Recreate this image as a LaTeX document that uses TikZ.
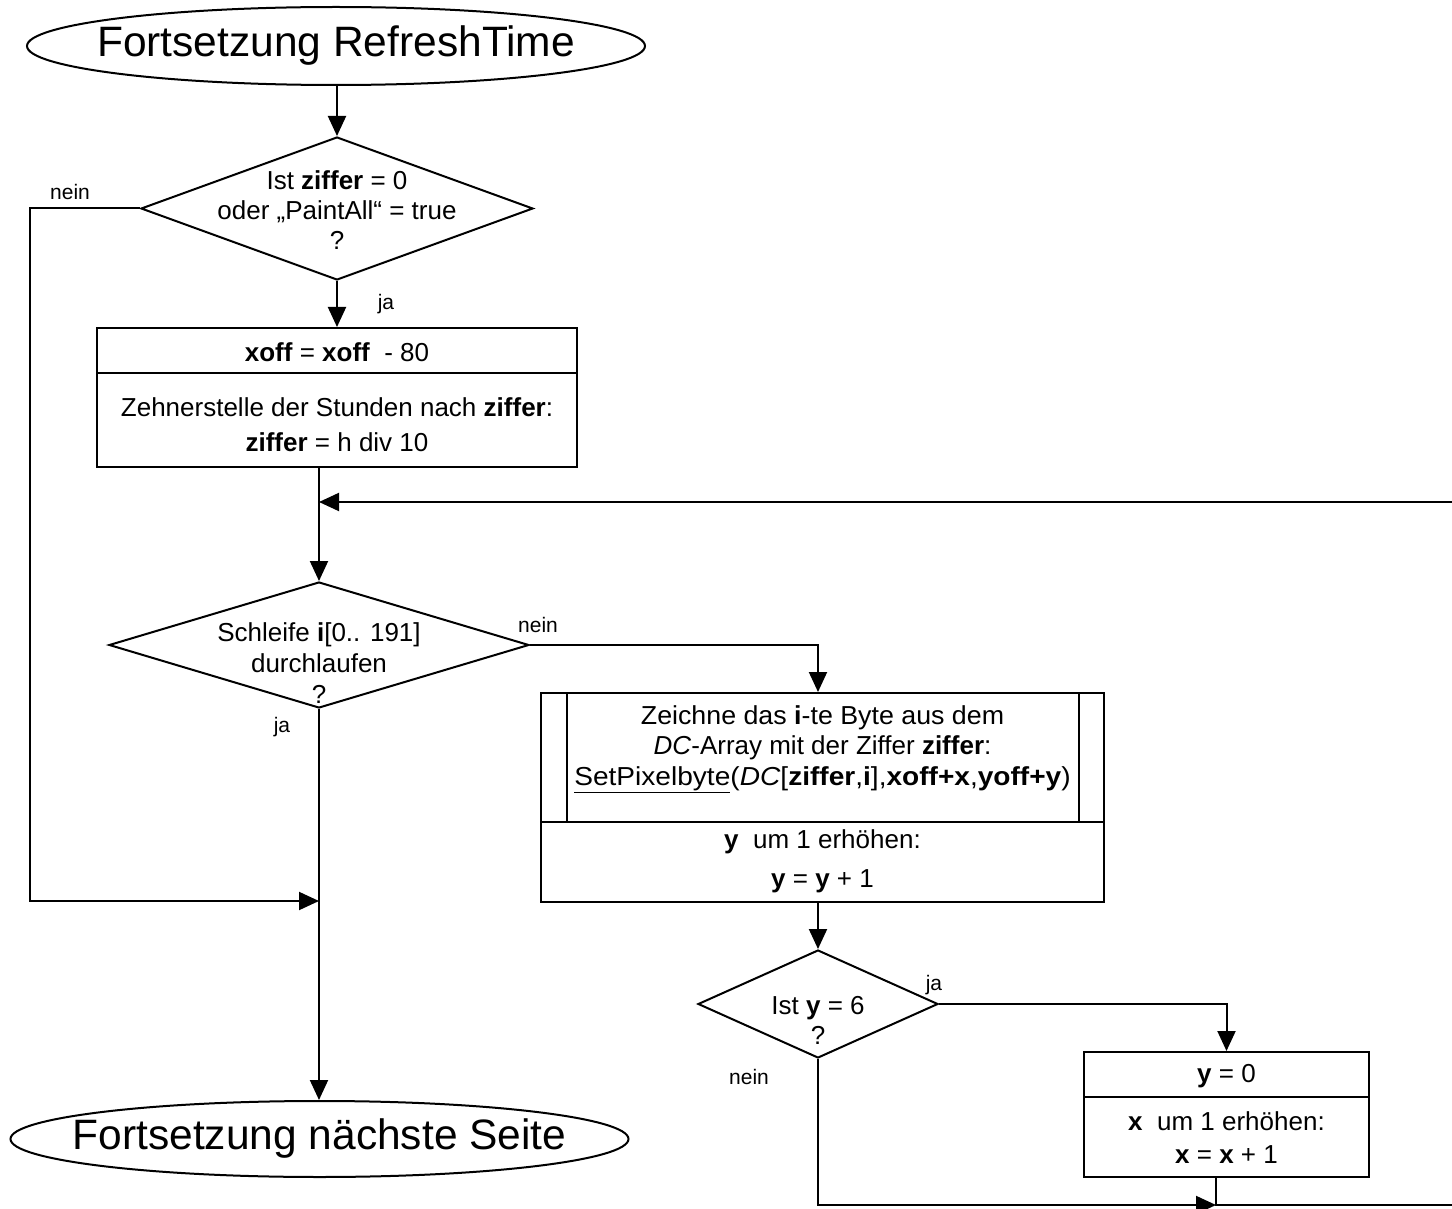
\documentclass[tikz,border=0pt]{standalone}
\usepackage{fontspec}
\setmainfont{Liberation Sans}
\usetikzlibrary{arrows.meta,shapes.geometric}
\begin{document}
\begin{tikzpicture}[x=1pt,y=-1pt,
  conn/.style={line width=2pt},
  arr/.style={conn,-{Triangle[length=20pt,width=18pt]}},
  shp/.style={draw,line width=2pt,inner sep=0pt},
  txt/.style={align=center,inner sep=0pt,font=\fontsize{26}{30}\selectfont},
  lbl/.style={inner sep=0pt,font=\fontsize{21}{25}\selectfont},
  term/.style={shp,ellipse,minimum width=618pt,minimum height=78pt},
  termtxt/.style={inner sep=0pt,font=\fontsize{42.5}{50}\selectfont},
  dia/.style={shp,diamond},
  box/.style={shp,rectangle},
]
\useasboundingbox (0,0) rectangle (1452,1209);
\clip (0,0) rectangle (1452,1209);

% terminals
\node[term] (start) at (336,46) {};
\node[termtxt] (startt) at (336,46) {Fortsetzung RefreshTime};
\node[term,minimum height=76pt] (end) at (319.5,1139) {};
\node[termtxt] (endt) at (319.5,1139) {Fortsetzung nächste Seite};

% decision 1
\node[dia,minimum width=392pt,minimum height=143pt] (d1) at (337,208.5) {};
\node[txt] (d1t) at (337,210) {Ist \textbf{ziffer} = 0\\oder „PaintAll“ = true\\?};

% box 1
\node[box,minimum width=480pt,minimum height=45pt] (b1a) at (337,350.5) {};
\node[txt] (b1at) at (337,352) {\textbf{xoff} = \textbf{xoff}\ \ - 80};
\node[box,minimum width=480pt,minimum height=94pt] (b1b) at (337,420) {};
\node[txt,font=\fontsize{26}{35}\selectfont] (b1bt) at (337,425) {Zehnerstelle der Stunden nach \textbf{ziffer}:\\\textbf{ziffer} = h div 10};

% decision 2
\node[dia,minimum width=420pt,minimum height=126pt] (d2) at (319,645) {};
\node[txt,font=\fontsize{26}{31}\selectfont] (d2t) at (319,663) {Schleife \textbf{i}[0.. 191]\\durchlaufen\\?};

% box 2
\node[box,minimum width=563pt,minimum height=129pt] (b2a) at (822.5,757.5) {};
\draw[line width=2pt] ([xshift=27pt]b2a.north west) -- ([xshift=27pt]b2a.south west);
\draw[line width=2pt] ([xshift=-26pt]b2a.north east) -- ([xshift=-26pt]b2a.south east);
\node[txt,font=\fontsize{26}{30.5}\selectfont] (b2at) at (822.5,749) {\scalebox{1.03}[1]{Zeichne das \textbf{i}-te Byte aus dem}\\\textit{DC}-Array mit der Ziffer \textbf{ziffer}:\\\scalebox{1.08}[1]{\underline{SetPixelbyte}(\textit{DC}[\textbf{ziffer},\textbf{i}],\textbf{xoff+x},\textbf{yoff+y})}};
\node[box,minimum width=563pt,minimum height=80pt] (b2b) at (822.5,862) {};
\node[txt,font=\fontsize{26}{39}\selectfont] (b2bt) at (822.5,861) {\textbf{y}\ \ um 1 erhöhen:\\\textbf{y} = \textbf{y} + 1};

% decision 3
\node[dia,minimum width=240pt,minimum height=108pt] (d3) at (818,1004) {};
\node[txt] (d3t) at (818,1020) {Ist \textbf{y} = 6\\?};

% box 3
\node[box,minimum width=285pt,minimum height=45pt] (b3a) at (1226.5,1074.5) {};
\node[txt] (b3at) at (1226.5,1076) {\textbf{y} = 0};
\node[box,minimum width=285pt,minimum height=80pt] (b3b) at (1226.5,1137) {};
\node[txt,font=\fontsize{26}{33}\selectfont] (b3bt) at (1226.5,1138) {\textbf{x}\ \ um 1 erhöhen:\\\textbf{x} = \textbf{x} + 1};

% labels
\node[lbl] (l1) at (70,192) {nein};
\node[lbl] (l2) at (386,304) {ja};
\node[lbl] (l3) at (538,625) {nein};
\node[lbl] (l4) at (282,727) {ja};
\node[lbl] (l5) at (934,985) {ja};
\node[lbl] (l6) at (749,1077) {nein};

% helper coordinates
\coordinate (lc) at (30,901);
\coordinate (j1) at (319,901);
\coordinate (j2) at (319,502);
\coordinate (j3) at (1216,1205);
\coordinate (rb) at (1475,1205);
\coordinate (rt) at (1475,502);

% connectors
\draw[arr] (start.south -| d1.north) -- (d1.north);
\draw[arr] (d1.west) -| (lc) -- (j1);
\draw[arr] (d1.south) -- (b1a.north);
\draw[arr] (b1b.south -| d2.north) -- (d2.north);
\draw[arr] (d2.east) -| (d3.north |- b2a.north);
\draw[arr] (d2.south) -- (end.north -| d2.south);
\draw[arr] (b2b.south -| d3.north) -- (d3.north);
\draw[arr] (d3.east) -| (b3a.north);
\draw[arr] (d3.south) |- (j3);
\draw[arr] (b3b.south -| j3) -- (j3) -- (rb) -- (rt) -- (j2);
\end{tikzpicture}
\end{document}
